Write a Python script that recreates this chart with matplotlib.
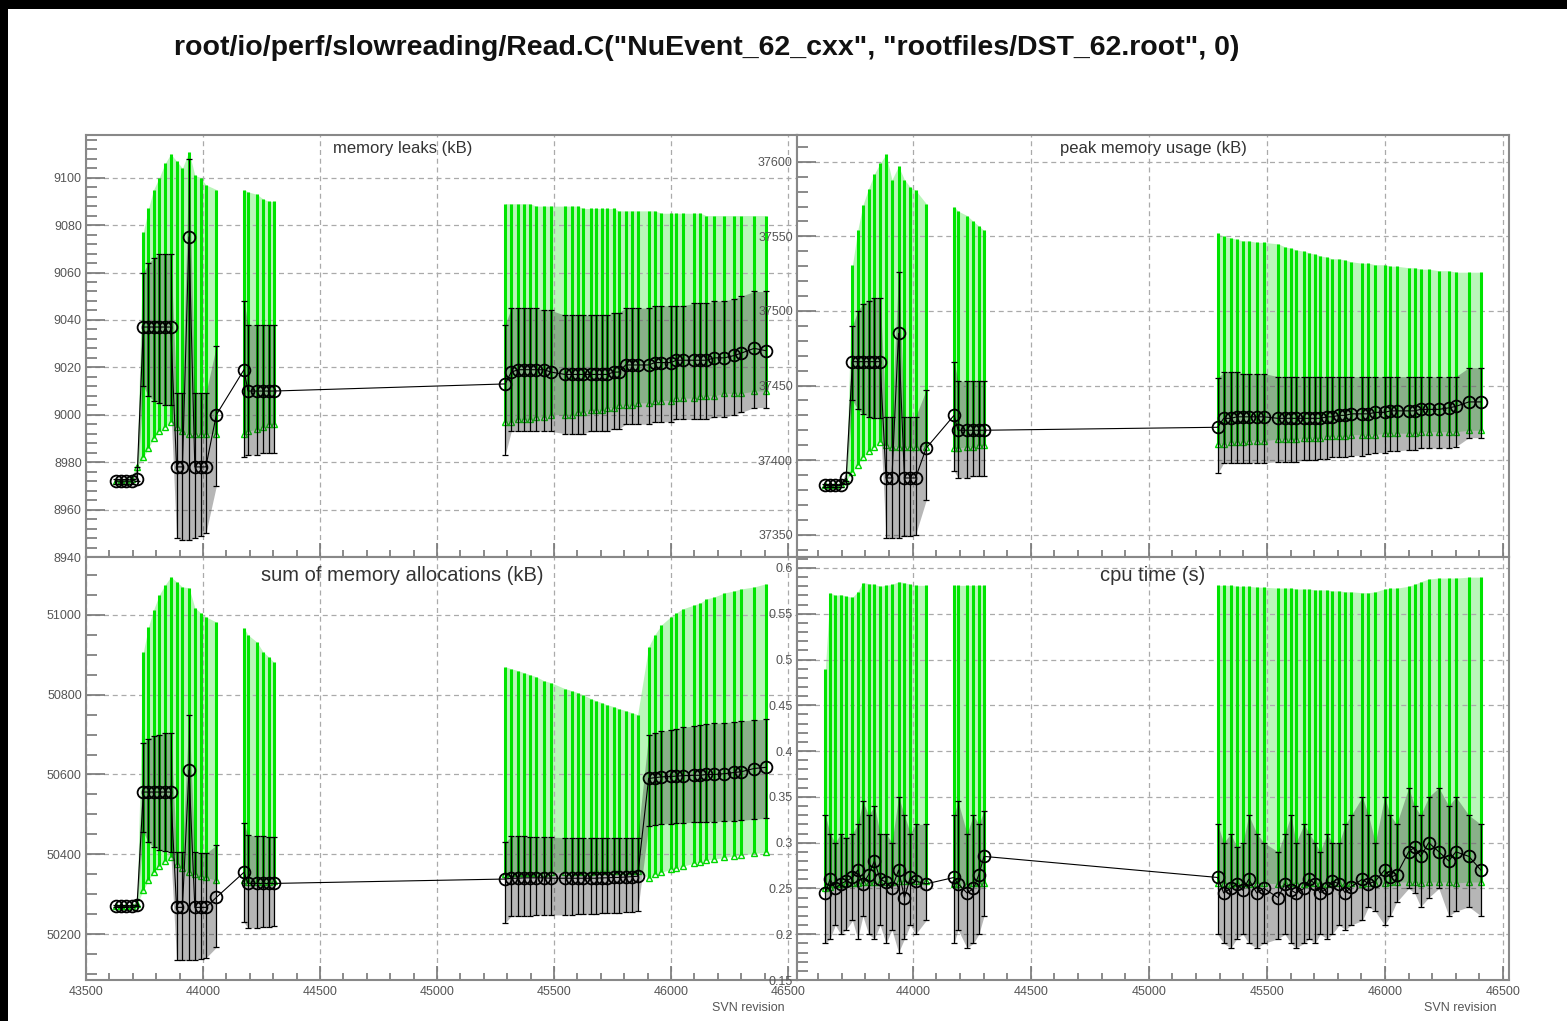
import numpy as np
import matplotlib
matplotlib.use("Agg")
import matplotlib.pyplot as plt
from matplotlib.patches import Rectangle
from matplotlib.ticker import MultipleLocator, FormatStrFormatter

plt.rcParams['font.family'] = ['Liberation Sans', 'DejaVu Sans']

# SVN revisions (two clusters)
rev_a = [43630, 43650, 43672, 43695, 43718, 43745, 43767, 43789, 43813, 43838, 43862, 43887,
         43912, 43940, 43965, 43990, 44012, 44057, 44175, 44192, 44230, 44257, 44280, 44302]
rev_b = [45291, 45317, 45347, 45372, 45398, 45423, 45457, 45487, 45547, 45576, 45602, 45623,
         45657, 45679, 45704, 45725, 45755, 45776, 45806, 45832, 45857, 45904, 45930, 45959,
         45998, 46023, 46049, 46100, 46125, 46151, 46185, 46228, 46270, 46300, 46355, 46406]

# memory leaks (kB)
leak_val = [8972, 8972, 8972, 8972, 8973, 9037, 9037, 9037, 9037, 9037, 9037, 8978,
            8978, 9075, 8978, 8978, 8978, 9000, 9019, 9010, 9010, 9010, 9010, 9010,
            9013, 9018, 9019, 9019, 9019, 9019, 9019, 9018, 9017, 9017, 9017, 9017,
            9017, 9017, 9017, 9017, 9018, 9018, 9021, 9021, 9021, 9021, 9022, 9022,
            9022, 9023, 9023, 9023, 9023, 9023, 9024, 9024, 9025, 9026, 9028, 9027]
leak_hi = [8973, 8973, 8973, 8973, 8978, 9060, 9064, 9066, 9068, 9068, 9068, 9009,
           9009, 9108, 9009, 9009, 9009, 9029, 9048, 9038, 9038, 9038, 9038, 9038,
           9038, 9045, 9045, 9045, 9045, 9045, 9044, 9044, 9042, 9042, 9042, 9042,
           9042, 9042, 9042, 9042, 9043, 9043, 9045, 9045, 9045, 9045, 9046, 9046,
           9046, 9046, 9046, 9047, 9047, 9047, 9048, 9048, 9049, 9050, 9052, 9052]
leak_lo = [8971, 8971, 8971, 8971, 8972, 9012, 9008, 9006, 9005, 9004, 9004, 8948,
           8947, 8947, 8948, 8949, 8950, 8970, 8982, 8983, 8983, 8984, 8984, 8984,
           8983, 8993, 8993, 8993, 8993, 8993, 8993, 8993, 8992, 8992, 8992, 8992,
           8993, 8993, 8993, 8993, 8994, 8994, 8996, 8996, 8996, 8996, 8997, 8997,
           8997, 8998, 8998, 8998, 8998, 8998, 8999, 8999, 9000, 9001, 9003, 9003]
leak_ref = [8972, 8972, 8972, 8973, 8978, 8982, 8986, 8990, 8993, 8995, 8997, 8995,
            8993, 8992, 8992, 8992, 8992, 8992, 8992, 8993, 8994, 8995, 8996, 8996,
            8997, 8997, 8998, 8998, 8998, 8999, 8999, 9000, 9000, 9000, 9001, 9001,
            9002, 9002, 9002, 9003, 9003, 9004, 9004, 9004, 9005, 9005, 9006, 9006,
            9006, 9007, 9007, 9007, 9008, 9008, 9008, 9009, 9009, 9009, 9010, 9010]
leak_ref_hi = [8973, 8973, 8973, 8974, 8979, 9077, 9087, 9095, 9100, 9106, 9110, 9107,
               9104, 9111, 9101, 9100, 9097, 9095, 9095, 9094, 9093, 9091, 9090, 9090,
               9089, 9089, 9089, 9089, 9089, 9088, 9088, 9088, 9088, 9088, 9088, 9087,
               9087, 9087, 9087, 9087, 9087, 9086, 9086, 9086, 9086, 9086, 9086, 9085,
               9085, 9085, 9085, 9085, 9085, 9084, 9084, 9084, 9084, 9084, 9084, 9084]

# peak memory usage (kB)
peak_val = [37383, 37383, 37383, 37383, 37388, 37466, 37466, 37466, 37466, 37466, 37466, 37388,
            37388, 37485, 37388, 37388, 37388, 37408, 37430, 37420, 37420, 37420, 37420, 37420,
            37422, 37428, 37428, 37429, 37429, 37429, 37429, 37429, 37428, 37428, 37428, 37428,
            37428, 37428, 37428, 37428, 37429, 37429, 37430, 37430, 37431, 37431, 37431, 37432,
            37432, 37433, 37433, 37433, 37433, 37434, 37434, 37434, 37435, 37436, 37439, 37439]
peak_hi = [37384, 37384, 37384, 37384, 37392, 37490, 37500, 37505, 37507, 37509, 37509, 37429,
           37429, 37526, 37429, 37429, 37429, 37447, 37466, 37453, 37453, 37453, 37453, 37453,
           37455, 37459, 37459, 37459, 37458, 37458, 37458, 37458, 37456, 37456, 37456, 37456,
           37456, 37456, 37456, 37456, 37456, 37456, 37456, 37456, 37456, 37456, 37456, 37456,
           37456, 37456, 37456, 37456, 37456, 37456, 37456, 37456, 37456, 37456, 37462, 37462]
peak_lo = [37382, 37382, 37382, 37382, 37386, 37440, 37434, 37431, 37429, 37428, 37428, 37348,
           37348, 37348, 37349, 37349, 37350, 37373, 37393, 37388, 37388, 37389, 37389, 37389,
           37391, 37398, 37398, 37398, 37398, 37398, 37398, 37398, 37399, 37399, 37399, 37399,
           37400, 37400, 37400, 37401, 37401, 37402, 37402, 37402, 37403, 37403, 37404, 37405,
           37405, 37406, 37406, 37407, 37407, 37408, 37408, 37408, 37408, 37409, 37415, 37415]
peak_ref = [37383, 37383, 37383, 37384, 37386, 37392, 37397, 37402, 37406, 37409, 37412, 37410,
            37409, 37409, 37409, 37409, 37409, 37409, 37408, 37408, 37409, 37409, 37410, 37410,
            37411, 37411, 37412, 37412, 37412, 37413, 37413, 37413, 37414, 37414, 37414, 37414,
            37415, 37415, 37415, 37415, 37416, 37416, 37416, 37416, 37417, 37417, 37417, 37417,
            37418, 37418, 37418, 37418, 37418, 37419, 37419, 37419, 37419, 37419, 37420, 37420]
peak_ref_hi = [37384, 37384, 37384, 37385, 37387, 37531, 37554, 37571, 37582, 37592, 37599, 37605,
               37588, 37597, 37588, 37583, 37581, 37572, 37570, 37567, 37564, 37560, 37557, 37554,
               37552, 37550, 37549, 37548, 37547, 37547, 37546, 37546, 37545, 37543, 37542, 37541,
               37540, 37539, 37538, 37537, 37536, 37535, 37535, 37534, 37533, 37532, 37532, 37531,
               37531, 37530, 37530, 37529, 37529, 37528, 37528, 37527, 37527, 37526, 37526, 37526]

# sum of memory allocations (kB)
alloc_val = [50270, 50270, 50270, 50270, 50272, 50556, 50556, 50556, 50556, 50556, 50556, 50267,
             50267, 50611, 50267, 50267, 50267, 50292, 50355, 50327, 50327, 50327, 50327, 50327,
             50338, 50340, 50340, 50341, 50341, 50341, 50341, 50340, 50340, 50340, 50340, 50340,
             50340, 50340, 50341, 50341, 50342, 50342, 50343, 50344, 50345, 50590, 50592, 50594,
             50595, 50596, 50597, 50598, 50598, 50600, 50600, 50602, 50605, 50607, 50615, 50618]
alloc_hi = [50272, 50272, 50272, 50272, 50285, 50680, 50690, 50697, 50700, 50703, 50704, 50405,
            50405, 50749, 50405, 50403, 50402, 50423, 50478, 50448, 50446, 50445, 50444, 50443,
            50430, 50445, 50445, 50445, 50444, 50444, 50443, 50443, 50442, 50442, 50441, 50441,
            50440, 50440, 50440, 50440, 50440, 50440, 50440, 50441, 50442, 50700, 50704, 50708,
            50712, 50715, 50718, 50722, 50724, 50726, 50728, 50730, 50732, 50734, 50737, 50738]
alloc_lo = [50268, 50268, 50268, 50268, 50270, 50455, 50430, 50418, 50412, 50408, 50405, 50134,
            50135, 50135, 50136, 50138, 50140, 50167, 50230, 50215, 50216, 50218, 50219, 50220,
            50228, 50245, 50245, 50246, 50246, 50247, 50248, 50248, 50248, 50249, 50250, 50250,
            50250, 50251, 50252, 50252, 50253, 50254, 50255, 50256, 50257, 50472, 50474, 50476,
            50477, 50478, 50479, 50480, 50481, 50482, 50482, 50483, 50484, 50485, 50488, 50490]
alloc_ref = [50270, 50270, 50270, 50271, 50275, 50310, 50335, 50355, 50370, 50382, 50392, 50375,
             50365, 50355, 50350, 50345, 50342, 50335, 50335, 50330, 50330, 50330, 50331, 50332,
             50350, 50352, 50352, 50353, 50353, 50354, 50354, 50355, 50355, 50355, 50356, 50356,
             50356, 50357, 50357, 50357, 50358, 50358, 50358, 50359, 50359, 50340, 50350, 50355,
             50362, 50366, 50370, 50378, 50381, 50385, 50388, 50392, 50396, 50398, 50402, 50405]
alloc_ref_hi = [50272, 50272, 50272, 50273, 50278, 50907, 50970, 51013, 51050, 51075, 51095, 51083,
                51070, 51068, 51018, 51005, 50995, 50982, 50967, 50950, 50932, 50907, 50895, 50882,
                50870, 50865, 50860, 50855, 50850, 50845, 50835, 50830, 50815, 50810, 50805, 50800,
                50790, 50785, 50780, 50775, 50770, 50765, 50760, 50755, 50750, 50920, 50950, 50975,
                50995, 51005, 51015, 51025, 51030, 51040, 51045, 51055, 51060, 51065, 51070, 51078]

# cpu time (s)
cpu_val = [0.245, 0.26, 0.25, 0.255, 0.258, 0.262, 0.27, 0.255, 0.265, 0.28, 0.26, 0.257,
           0.25, 0.27, 0.24, 0.262, 0.258, 0.255, 0.262, 0.255, 0.245, 0.25, 0.265, 0.285,
           0.262, 0.245, 0.25, 0.255, 0.248, 0.26, 0.245, 0.25, 0.24, 0.255, 0.248, 0.245,
           0.25, 0.26, 0.255, 0.245, 0.25, 0.258, 0.255, 0.245, 0.252, 0.26, 0.255, 0.258,
           0.27, 0.262, 0.265, 0.29, 0.295, 0.285, 0.3, 0.29, 0.28, 0.29, 0.285, 0.27]
cpu_hi = [0.33, 0.31, 0.30, 0.31, 0.305, 0.31, 0.32, 0.345, 0.33, 0.34, 0.31, 0.31,
          0.30, 0.35, 0.33, 0.31, 0.32, 0.32, 0.33, 0.345, 0.31, 0.33, 0.32, 0.335,
          0.32, 0.30, 0.31, 0.295, 0.30, 0.33, 0.31, 0.30, 0.29, 0.31, 0.33, 0.30,
          0.32, 0.31, 0.30, 0.29, 0.31, 0.30, 0.30, 0.32, 0.33, 0.35, 0.33, 0.30,
          0.35, 0.33, 0.32, 0.36, 0.34, 0.33, 0.35, 0.36, 0.34, 0.35, 0.33, 0.32]
cpu_lo = [0.19, 0.195, 0.21, 0.20, 0.205, 0.215, 0.195, 0.22, 0.20, 0.195, 0.21, 0.19,
          0.205, 0.18, 0.195, 0.21, 0.20, 0.215, 0.19, 0.205, 0.185, 0.19, 0.20, 0.22,
          0.20, 0.19, 0.185, 0.195, 0.20, 0.19, 0.185, 0.19, 0.195, 0.20, 0.19, 0.185,
          0.19, 0.195, 0.19, 0.20, 0.195, 0.20, 0.21, 0.205, 0.21, 0.215, 0.23, 0.225,
          0.21, 0.22, 0.235, 0.25, 0.245, 0.23, 0.24, 0.25, 0.22, 0.225, 0.23, 0.22]
cpu_ref = [0.25, 0.252, 0.255, 0.255, 0.256, 0.256, 0.256, 0.257, 0.257, 0.257, 0.257, 0.257,
           0.257, 0.258, 0.258, 0.258, 0.258, 0.258, 0.255, 0.255, 0.255, 0.256, 0.256, 0.256,
           0.256, 0.256, 0.255, 0.256, 0.256, 0.255, 0.256, 0.256, 0.255, 0.256, 0.256, 0.256,
           0.255, 0.256, 0.256, 0.256, 0.255, 0.256, 0.256, 0.256, 0.256, 0.255, 0.256, 0.256,
           0.256, 0.257, 0.257, 0.257, 0.257, 0.256, 0.257, 0.257, 0.257, 0.256, 0.257, 0.257]
cpu_ref_hi = [0.49, 0.573, 0.570, 0.571, 0.569, 0.568, 0.574, 0.584, 0.583, 0.582, 0.580, 0.581,
              0.582, 0.585, 0.584, 0.582, 0.581, 0.581, 0.581, 0.581, 0.581, 0.581, 0.581, 0.581,
              0.581, 0.581, 0.581, 0.580, 0.580, 0.580, 0.579, 0.579, 0.578, 0.578, 0.578, 0.577,
              0.577, 0.577, 0.576, 0.576, 0.576, 0.575, 0.575, 0.574, 0.574, 0.573, 0.573, 0.574,
              0.577, 0.578, 0.578, 0.580, 0.582, 0.585, 0.588, 0.589, 0.589, 0.589, 0.590, 0.590]

title = 'root/io/perf/slowreading/Read.C("NuEvent_62_cxx", "rootfiles/DST_62.root", 0)'

rev = np.array(rev_a + rev_b)
# break the shaded bands where consecutive revisions are far apart
cuts = [0] + [i + 1 for i in range(len(rev) - 1) if rev[i + 1] - rev[i] > 80] + [len(rev)]
segments = [slice(a, b) for a, b in zip(cuts[:-1], cuts[1:])]

W, H = 1567, 1021
fig = plt.figure(figsize=(W / 100, H / 100), dpi=100, facecolor='black')
fig.add_artist(Rectangle((8 / W, 0), 1, 1 - 9 / H, transform=fig.transFigure,
                         facecolor='white', edgecolor='none', zorder=-10))


def pos(x0, y0, x1, y1):
    return [x0 / W, 1 - y1 / H, (x1 - x0) / W, (y1 - y0) / H]


def panel(rect, xlim, ylim, major, minor, ref, ref_hi, val, lo, hi, name, tsize, tx, ty,
          xlabels=True):
    ax = fig.add_axes(pos(*rect))
    ref, ref_hi = np.array(ref), np.array(ref_hi)
    val, lo, hi = np.array(val), np.array(lo), np.array(hi)
    for sl in segments:
        ax.fill_between(rev[sl], ref[sl], ref_hi[sl], color='#a8f4a8', alpha=0.8, lw=0, zorder=1)
        ax.fill_between(rev[sl], lo[sl], hi[sl], color='#303030', alpha=0.35, lw=0, zorder=3)
    ax.vlines(rev, ref, ref_hi, color='#00e400', lw=2.2, zorder=2)
    ax.plot(rev, ref, '^', mfc='none', mec='#00d800', ms=4.5, mew=1.0, zorder=2)
    ax.errorbar(rev, val, yerr=[val - lo, hi - val], fmt='none', ecolor='black',
                elinewidth=0.9, capsize=2, capthick=0.9, zorder=4)
    ax.plot(rev, val, '-', color='black', lw=0.8, zorder=4)
    ax.plot(rev, val, 'o', mfc='none', mec='black', ms=8.5, mew=1.3, zorder=5)

    ax.set_xlim(*xlim)
    ax.set_ylim(*ylim)
    ax.xaxis.set_major_locator(MultipleLocator(500))
    ax.xaxis.set_minor_locator(MultipleLocator(100))
    ax.yaxis.set_major_locator(MultipleLocator(major))
    ax.yaxis.set_minor_locator(MultipleLocator(minor))
    ax.yaxis.set_major_formatter(FormatStrFormatter('%g'))
    ax.tick_params(which='both', direction='in', colors='#777777', labelcolor='#555555',
                   labelsize=9, width=1.2, top=False, right=False, labelbottom=xlabels)
    ax.tick_params(axis='y', which='major', length=14, pad=3)
    ax.tick_params(axis='y', which='minor', length=8)
    ax.tick_params(axis='x', which='major', length=10, pad=4)
    ax.tick_params(axis='x', which='minor', length=5)
    ax.grid(True, which='major', ls=(0, (4, 3)), color='#aaaaaa', lw=0.9)
    for s in ax.spines.values():
        s.set_color('#888888')
        s.set_linewidth(1.5)
    ax.text(tx, ty, name, transform=ax.transAxes, ha='center', va='center',
            fontsize=tsize, color='#333333')
    return ax


xl = (43500, 46538)
xr = (43510, 46525)
panel((86, 135, 797, 557), xl, (8940, 9118), 20, 4,
      leak_ref, leak_ref_hi, leak_val, leak_lo, leak_hi, 'memory leaks (kB)', 12, 0.445, 0.968,
      xlabels=False)
panel((797, 135, 1509, 557), xr, (37335, 37618), 50, 10,
      peak_ref, peak_ref_hi, peak_val, peak_lo, peak_hi, 'peak memory usage (kB)', 12, 0.5, 0.968,
      xlabels=False)
panel((86, 557, 797, 980), xl, (50085, 51145), 200, 50,
      alloc_ref, alloc_ref_hi, alloc_val, alloc_lo, alloc_hi,
      'sum of memory allocations (kB)', 14.5, 0.445, 0.957)
panel((797, 557, 1509, 980), xr, (0.15, 0.612), 0.05, 0.01,
      cpu_ref, cpu_ref_hi, cpu_val, cpu_lo, cpu_hi, 'cpu time (s)', 14.5, 0.5, 0.957)

fig.text(707 / W, 1 - 48 / H, title, ha='center', va='center', fontsize=20.5,
         fontweight='bold', color='#111111')
fig.text(748 / W, 1 - 1008 / H, 'SVN revision', ha='center', va='center',
         fontsize=9, color='#555555')
fig.text(1460 / W, 1 - 1008 / H, 'SVN revision', ha='center', va='center',
         fontsize=9, color='#555555')

fig.savefig('out.png', dpi=100, facecolor=fig.get_facecolor())
